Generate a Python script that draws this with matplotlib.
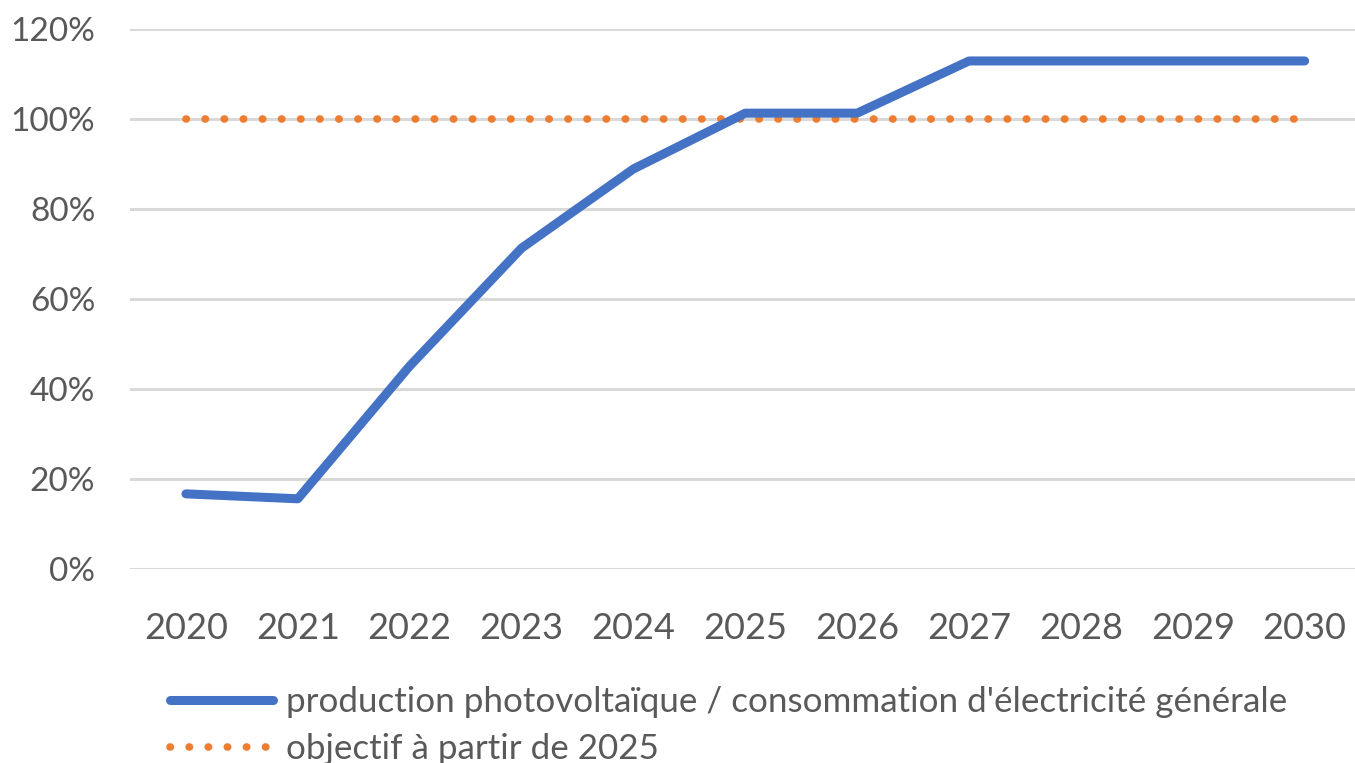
import matplotlib.pyplot as plt
from matplotlib.ticker import FuncFormatter

plt.rcParams['font.family'] = ['Lato', 'DejaVu Sans']

years = ['2020', '2021', '2022', '2023', '2024', '2025', '2026', '2027', '2028', '2029', '2030']
production = [0.167, 0.156, 0.451, 0.713, 0.889, 1.013, 1.013, 1.129, 1.129, 1.129, 1.129]
objectif = [1.0] * len(years)

label_prod = "production photovoltaïque / consommation d'électricité générale"
label_obj = "objectif à partir de 2025"

grey = '#595959'
blue = '#4472C4'
orange = '#ED7D31'

fig = plt.figure(figsize=(13.55, 7.63), dpi=100)
ax = fig.add_axes([130/1355, 194/763, 1225/1355, 540/763])

x = range(len(years))
ax.plot(x, production, color=blue, lw=6.5, solid_capstyle='round',
        solid_joinstyle='round', label=label_prod, zorder=3)
ax.plot(x, objectif, color=orange, lw=5.5, linestyle=(0, (0.05, 2.45)),
        dash_capstyle='round', label=label_obj, zorder=2)

ax.set_xlim(-0.5, 10.45)
ax.set_ylim(0, 1.2)
ax.set_yticks([0, 0.2, 0.4, 0.6, 0.8, 1.0, 1.2])
ax.yaxis.set_major_formatter(FuncFormatter(lambda v, p: f'{v*100:.0f}%'))
ax.set_xticks(list(x))
ax.set_xticklabels(years)

ax.grid(axis='y', color='#d9d9d9', lw=2.2)
ax.set_axisbelow(True)
for s in ax.spines.values():
    s.set_visible(False)
ax.tick_params(axis='both', length=0, colors=grey)
ax.tick_params(axis='y', labelsize=24, pad=25)
ax.tick_params(axis='x', labelsize=26, pad=31)

leg = fig.legend(loc='upper left', bbox_to_anchor=(156/1355, 1 - 672/763),
                 frameon=False, fontsize=25.2, handlelength=2.95,
                 handletextpad=0.36, labelspacing=0.43, borderaxespad=0)
for t in leg.get_texts():
    t.set_color(grey)

fig.savefig('out.png', dpi=100)
